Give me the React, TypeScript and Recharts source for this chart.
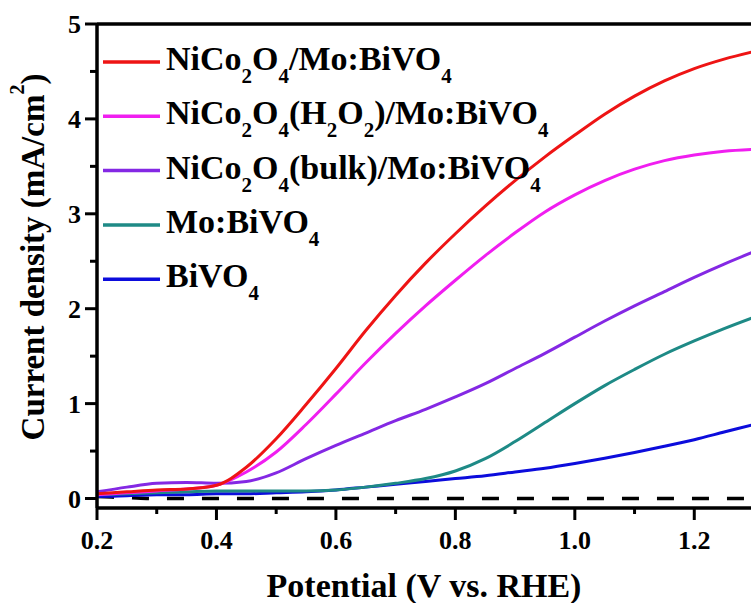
import { LineChart, Line, XAxis, YAxis, ReferenceLine, Legend } from "recharts"

const potential = [0.2, 0.25, 0.3, 0.35, 0.4, 0.45, 0.5, 0.55, 0.6, 0.65, 0.7, 0.75, 0.8, 0.85, 0.9, 0.95, 1.0, 1.05, 1.1, 1.15, 1.2, 1.25, 1.3]

const nicoMo = [0.05, 0.07, 0.09, 0.1, 0.14, 0.33, 0.63, 0.99, 1.37, 1.77, 2.14, 2.48, 2.79, 3.08, 3.35, 3.6, 3.83, 4.05, 4.24, 4.4, 4.53, 4.63, 4.71]
const nicoH2o2 = [0.04, 0.06, 0.08, 0.1, 0.14, 0.28, 0.49, 0.78, 1.1, 1.43, 1.74, 2.03, 2.3, 2.56, 2.8, 3.02, 3.2, 3.35, 3.47, 3.56, 3.62, 3.66, 3.68]
const nicoBulk = [0.07, 0.12, 0.16, 0.17, 0.16, 0.18, 0.27, 0.42, 0.56, 0.69, 0.82, 0.94, 1.07, 1.21, 1.37, 1.53, 1.7, 1.87, 2.03, 2.18, 2.33, 2.47, 2.6]
const moBivo = [0.04, 0.05, 0.06, 0.07, 0.08, 0.08, 0.08, 0.08, 0.09, 0.12, 0.16, 0.21, 0.29, 0.42, 0.6, 0.8, 1.0, 1.19, 1.36, 1.52, 1.66, 1.79, 1.91]
const bivo = [0.02, 0.03, 0.04, 0.04, 0.05, 0.05, 0.06, 0.07, 0.09, 0.12, 0.15, 0.18, 0.21, 0.24, 0.28, 0.32, 0.37, 0.425, 0.485, 0.55, 0.62, 0.7, 0.78]
const dark = [0.02, 0.01, 0, 0, 0, 0, 0, 0, 0, 0, 0, 0, 0, 0, 0, 0, 0, 0, 0, 0, 0, 0, 0]

// legend names, "_x" marks a subscript character
const seriesNames = ["NiCo_2O_4/Mo:BiVO_4", "NiCo_2O_4(H_2O_2)/Mo:BiVO_4", "NiCo_2O_4(bulk)/Mo:BiVO_4", "Mo:BiVO_4", "BiVO_4"]
const seriesKeys = ["nicoMo", "nicoH2o2", "nicoBulk", "moBivo", "bivo"]
const seriesColors = ["#ee1414", "#f01ef0", "#8428e4", "#1e8a86", "#0c0cdc"]

const xTicks = [0.2, 0.3, 0.4, 0.5, 0.6, 0.7, 0.8, 0.9, 1.0, 1.1, 1.2, 1.3]
const yTicks = [0, 0.5, 1, 1.5, 2, 2.5, 3, 3.5, 4, 4.5, 5]

const data = potential.map((x, i) => ({
  x,
  nicoMo: nicoMo[i],
  nicoH2o2: nicoH2o2[i],
  nicoBulk: nicoBulk[i],
  moBivo: moBivo[i],
  bivo: bivo[i],
  dark: dark[i],
}))

const FONT = "'Liberation Serif', 'Times New Roman', serif"

function richText(label: string, subSize: number, shift: number) {
  const parts: JSX.Element[] = []
  let buf = ""
  let down = false
  let k = 0
  for (let i = 0; i < label.length; i++) {
    if (label[i] === "_" && i + 1 < label.length) {
      if (buf) {
        parts.push(<tspan key={k++} dy={down ? -shift : 0}>{buf}</tspan>)
        down = false
        buf = ""
      }
      parts.push(<tspan key={k++} dy={down ? 0 : shift} fontSize={subSize}>{label[i + 1]}</tspan>)
      down = true
      i++
    } else {
      buf += label[i]
    }
  }
  if (buf) parts.push(<tspan key={k++} dy={down ? -shift : 0}>{buf}</tspan>)
  return parts
}

function XTick(props: any) {
  const { x, y, payload } = props
  const v = payload.value
  const major = Math.round(v * 10) % 2 === 0
  return (
    <g>
      <line x1={x} y1={y} x2={x} y2={y + (major ? 12 : 6)} stroke="#000" strokeWidth={3} />
      {major && (
        <text x={x} y={y + 41} textAnchor="middle" fontFamily={FONT} fontWeight="bold" fontSize={26} fill="#000">
          {v.toFixed(1)}
        </text>
      )}
    </g>
  )
}

function YTick(props: any) {
  const { x, y, payload } = props
  const v = payload.value
  const major = Number.isInteger(v)
  return (
    <g>
      <line x1={x} y1={y} x2={x - (major ? 12 : 7)} y2={y} stroke="#000" strokeWidth={3} />
      {major && (
        <text x={x - 16} y={y + 9} textAnchor="end" fontFamily={FONT} fontWeight="bold" fontSize={26} fill="#000">
          {String(v)}
        </text>
      )}
    </g>
  )
}

function LegendBox() {
  return (
    <svg width={600} height={330} style={{ display: "block" }}>
      {seriesNames.map((name, i) => {
        const cy = 62 + i * 54.3
        return (
          <g key={name}>
            <line x1={103} y1={cy} x2={160} y2={cy} stroke={seriesColors[i]} strokeWidth={3.5} />
            <text x={166} y={cy + 8} fontFamily={FONT} fontWeight="bold" fontSize={34} fill="#000">
              {richText(name, 21, 13)}
            </text>
          </g>
        )
      })}
    </svg>
  )
}

export default function App() {
  return (
    <div style={{ position: "absolute", left: 0, top: 0, width: 751, height: 603, overflow: "hidden", background: "#fff" }}>
      <LineChart width={760} height={603} data={data} margin={{ top: 24, right: 6, bottom: 0, left: 0 }}>
        <XAxis
          dataKey="x"
          type="number"
          domain={[0.2, 1.3]}
          ticks={xTicks}
          interval={0}
          tickSize={0}
          tickMargin={0}
          tickLine={false}
          tick={<XTick />}
          height={95}
          axisLine={{ stroke: "#000", strokeWidth: 3.5 }}
          allowDataOverflow
          label={{
            content: () => (
              <text x={424} y={597} textAnchor="middle" fontFamily={FONT} fontWeight="bold" fontSize={34} fill="#000">
                Potential (V vs. RHE)
              </text>
            ),
          }}
        />
        <YAxis
          type="number"
          domain={[-0.1, 5]}
          ticks={yTicks}
          interval={0}
          tickSize={0}
          tickMargin={0}
          tickLine={false}
          tick={<YTick />}
          width={97}
          axisLine={{ stroke: "#000", strokeWidth: 3.5 }}
          allowDataOverflow
          label={{
            content: () => (
              <text transform="translate(44, 257) rotate(-90)" x={0} y={0} textAnchor="middle" fontFamily={FONT} fontWeight="bold" fontSize={33} fill="#000">
                Current density (mA/cm
                <tspan dy={-20} fontSize={20}>2</tspan>
                <tspan dy={20}>)</tspan>
              </text>
            ),
          }}
        />
        <ReferenceLine y={5} stroke="#000" strokeWidth={3.5} />
        <Line dataKey="dark" type="monotone" stroke="#000" strokeWidth={3.5} strokeDasharray="17 18" dot={false} legendType="none" isAnimationActive={false} />
        {[4, 3, 2, 1, 0].map((i) => (
          <Line
            key={seriesKeys[i]}
            dataKey={seriesKeys[i]}
            name={seriesNames[i]}
            type="monotone"
            stroke={seriesColors[i]}
            strokeWidth={3}
            dot={false}
            isAnimationActive={false}
          />
        ))}
        <Legend
          layout="vertical"
          align="center"
          verticalAlign="middle"
          wrapperStyle={{ left: 0, top: 0, width: 600, height: 330 }}
          content={() => <LegendBox />}
        />
      </LineChart>
    </div>
  )
}
